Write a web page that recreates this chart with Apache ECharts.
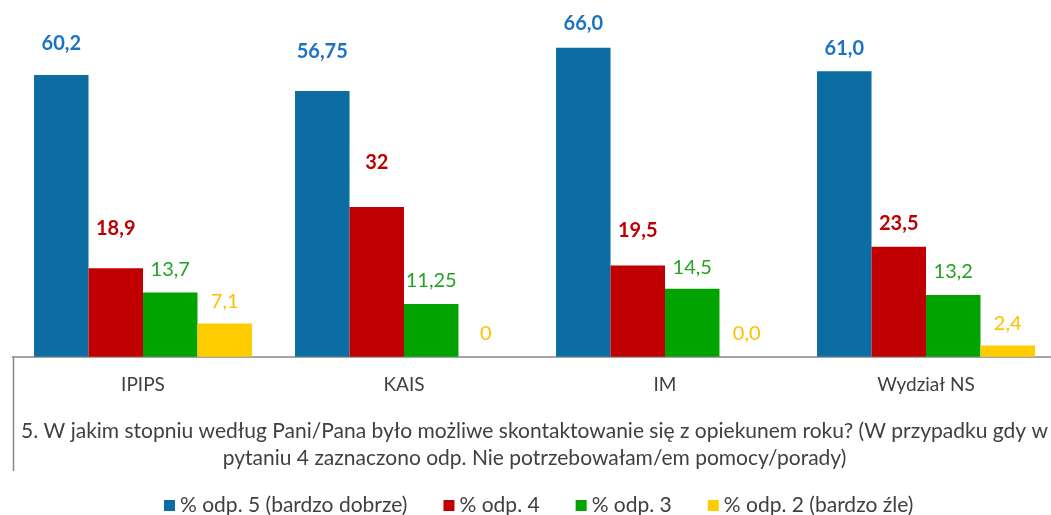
<!DOCTYPE html>
<html>
<head>
<meta charset="utf-8">
<script src="https://cdn.jsdelivr.net/npm/echarts@6/dist/echarts.min.js"></script>
<style>
  html, body { margin: 0; padding: 0; background: #fff; overflow: hidden; }
  #chart { width: 1057px; height: 515px; }
</style>
</head>
<body>
<div id="chart"></div>
<script>
    // ------------------------------
    // Data
    // ------------------------------
    var categories = ['IPIPS', 'KAIS', 'IM', 'Wydział NS'];
    var seriesNames = ['% odp. 5 (bardzo dobrze)', '% odp. 4', '% odp. 3', '% odp. 2 (bardzo źle)'];

    var odp5 = [60.2, 56.75, 66.0, 61.0];
    var odp4 = [18.9, 32, 19.5, 23.5];
    var odp3 = [13.7, 11.25, 14.5, 13.2];
    var odp2 = [7.1, 0, 0.0, 2.4];

    // labels as printed in the original (polish decimal comma)
    var odp5Labels = ['60,2', '56,75', '66,0', '61,0'];
    var odp4Labels = ['18,9', '32', '19,5', '23,5'];
    var odp3Labels = ['13,7', '11,25', '14,5', '13,2'];
    var odp2Labels = ['7,1', '0', '0,0', '2,4'];

    var axisTitle = '5. W jakim stopniu według Pani/Pana było możliwe skontaktowanie się z opiekunem roku? (W przypadku gdy w\npytaniu 4 zaznaczono odp. Nie potrzebowałam/em pomocy/porady)';

    // ------------------------------
    // Styles
    // ------------------------------
    var barColors = ['#0B6DA2', '#C00000', '#00A300', '#FFCC00'];
    var labelColors = ['#1B73C2', '#C00000', '#24A324', '#FFC000'];
    var labelBold = ['bold', 'bold', 'normal', 'normal'];
    // some labels were dragged up by hand in the original
    var labelLift = [
        [21, 29, 14, 13],
        [30, 34, 25, 13],
        [13, 13, 11, 13],
        [12, 13, 13, 12]
    ];
    var FONT = 'Lato, "Open Sans", sans-serif';

    var values = [odp5, odp4, odp3, odp2];
    var labels = [odp5Labels, odp4Labels, odp3Labels, odp2Labels];

    var series = seriesNames.map(function (name, s) {
        return {
            name: name,
            type: 'bar',
            barGap: '0%',
            barCategoryGap: '16.5%',
            itemStyle: { color: barColors[s] },
            data: values[s].map(function (v, i) {
                return {
                    value: v,
                    label: {
                        show: true,
                        position: 'top',
                        distance: labelLift[s][i],
                        formatter: labels[s][i],
                        color: labelColors[s],
                        fontWeight: labelBold[s],
                        fontSize: 20,
                        fontFamily: FONT
                    }
                };
            })
        };
    });

    // chart area runs a few px past the right edge of the window, as in the original
    var chart = echarts.init(document.getElementById('chart'));
    var option = {
        animation: false,
        color: barColors,
        grid: {
            left: 12.5,
            right: 0.5,
            top: 29,
            bottom: 158.3,
            containLabel: false
        },
        legend: {
            data: seriesNames,
            top: 490,
            left: 159,
            itemWidth: 11,
            itemHeight: 11,
            itemGap: 36,
            icon: 'rect',
            textStyle: { fontSize: 21, color: '#404040', fontFamily: FONT }
        },
        xAxis: {
            type: 'category',
            data: categories,
            axisLine: { lineStyle: { color: '#868686', width: 1.5 } },
            axisTick: { show: false },
            axisLabel: {
                margin: 19,
                fontSize: 19,
                color: '#404040',
                fontFamily: FONT
            },
            name: axisTitle,
            nameLocation: 'middle',
            nameGap: 61,
            nameTextStyle: {
                fontSize: 21,
                color: '#404040',
                lineHeight: 27,
                fontFamily: FONT
            }
        },
        yAxis: {
            type: 'value',
            min: 0,
            max: 70,
            show: false,
            splitLine: { show: false }
        },
        graphic: [{
            type: 'line',
            shape: { x1: 13.5, y1: 357, x2: 13.5, y2: 471 },
            style: { stroke: '#868686', lineWidth: 1.5 }
        }],
        series: series
    };

    chart.setOption(option);
</script>
</body>
</html>
